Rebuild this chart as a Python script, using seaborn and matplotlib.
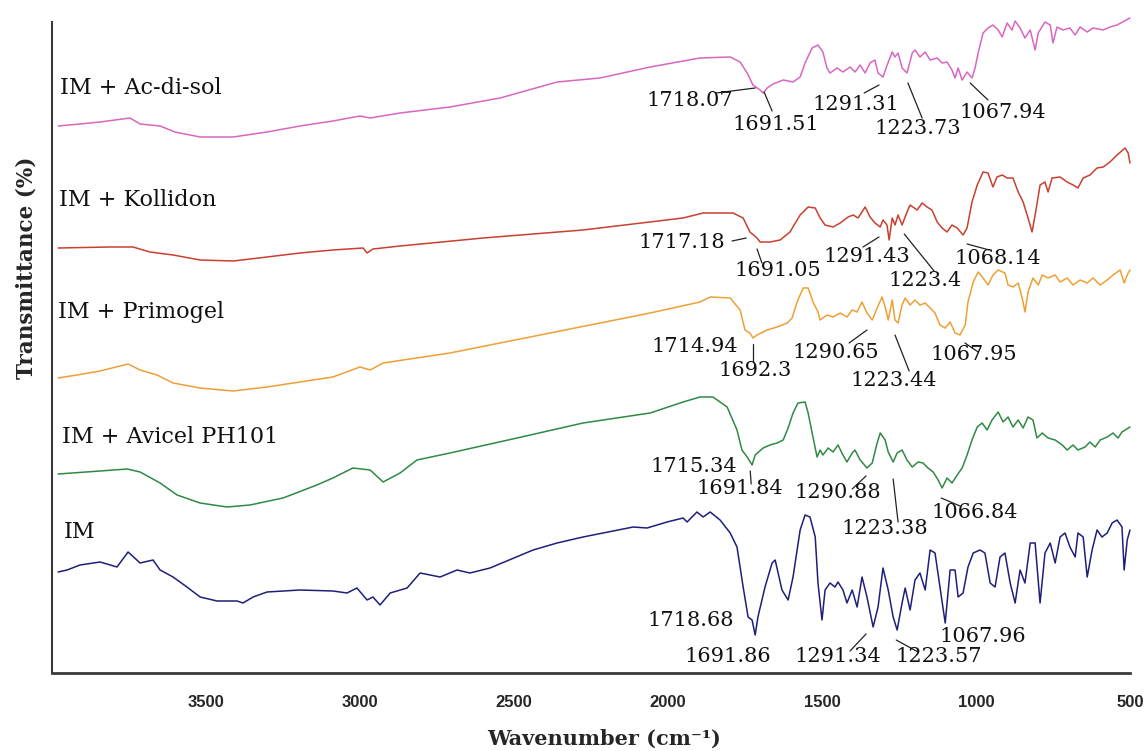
import matplotlib
matplotlib.use("Agg")
import matplotlib.pyplot as plt
import pandas as pd
import seaborn as sns

# FTIR spectra, stacked: wavenumber (cm-1) and transmittance (arbitrary, offset)
acdisol_wn = [3980, 3909, 3844, 3747, 3714, 3649, 3601, 3519, 3412, 3302, 3195, 3088, 3000, 2967, 2870,
              2708, 2545, 2360, 2221, 2058, 1896, 1798, 1766, 1743, 1724, 1701, 1691, 1678, 1659, 1626,
              1594, 1571, 1555, 1532, 1513, 1497, 1484, 1474, 1451, 1432, 1409, 1393, 1376, 1360, 1344,
              1328, 1318, 1302, 1286, 1272, 1263, 1253, 1240, 1224, 1207, 1198, 1182, 1165, 1149, 1126,
              1110, 1094, 1078, 1068, 1058, 1045, 1029, 1013, 1003, 993, 977, 961, 945, 928, 915, 899,
              883, 873, 857, 841, 824, 808, 798, 776, 759, 750, 737, 717, 695, 678, 662, 639, 620, 587,
              565, 542, 500]
acdisol_t = [547, 549, 551, 555, 549, 547, 541, 536, 536, 541, 547, 552, 557, 555, 560,
             566, 575, 591, 595, 606, 615, 616, 611, 600, 588, 583, 580, 585, 589, 593,
             591, 596, 610, 625, 628, 621, 605, 600, 605, 601, 606, 601, 608, 600, 610,
             613, 600, 596, 610, 621, 616, 620, 605, 600, 620, 623, 616, 621, 613, 615,
             610, 611, 603, 595, 605, 593, 601, 595, 605, 620, 640, 645, 648, 643, 636, 650,
             643, 652, 645, 635, 643, 623, 640, 651, 648, 630, 646, 643, 645, 638, 646, 641, 645, 643,
             646, 648, 655]

kollidon_wn = [3980, 3812, 3737, 3682, 3607, 3519, 3412, 3302, 3195, 3088, 2990, 2977, 2958, 2870, 2600,
               2276, 1951, 1886, 1831, 1789, 1756, 1734, 1711, 1701, 1669, 1636, 1604, 1571, 1545, 1522,
               1506, 1490, 1464, 1441, 1415, 1399, 1383, 1360, 1344, 1328, 1311, 1302, 1289, 1282, 1272,
               1263, 1253, 1240, 1224, 1214, 1191, 1175, 1159, 1143, 1126, 1110, 1094, 1078, 1061, 1042,
               1029, 1013, 996, 977, 961, 945, 932, 915, 899, 880, 863, 847, 831, 818, 808, 792, 776,
               766, 753, 727, 704, 685, 669, 652, 630, 607, 587, 565, 542, 516, 506, 500]
kollidon_t = [425, 426, 426, 421, 418, 413, 412, 416, 420, 423, 425, 420, 424, 427, 435,
              443, 455, 460, 460, 460, 455, 441, 435, 431, 431, 433, 441, 458, 466, 465,
              455, 448, 446, 450, 456, 458, 455, 466, 456, 450, 446, 453, 448, 433, 455,
              448, 458, 448, 461, 468, 463, 470, 466, 463, 451, 445, 441, 448, 445, 438,
              445, 471, 488, 501, 500, 486, 496, 498, 495, 495, 481, 471, 455, 441, 458, 488, 491,
              481, 495, 496, 491, 488, 485, 495, 498, 505, 506, 511, 518, 525, 520, 510]

primogel_wn = [3980, 3919, 3844, 3753, 3714, 3659, 3607, 3519, 3412, 3302, 3195, 3088, 3000, 2967, 2925,
               2708, 2383, 2058, 1896, 1863, 1798, 1766, 1750, 1734, 1724, 1711, 1678, 1646, 1613, 1597,
               1581, 1561, 1545, 1529, 1513, 1506, 1484, 1464, 1441, 1419, 1402, 1386, 1370, 1354, 1337,
               1321, 1305, 1295, 1285, 1272, 1263, 1253, 1240, 1230, 1214, 1198, 1182, 1165, 1149, 1133,
               1117, 1100, 1084, 1068, 1052, 1035, 1026, 1009, 993, 977, 961, 945, 928, 906, 896, 880,
               863, 850, 841, 831, 815, 798, 785, 766, 743, 727, 704, 685, 662, 639, 620, 597, 574, 555,
               532, 519, 506, 500]
primogel_t = [295, 298, 302, 309, 303, 298, 290, 285, 282, 286, 291, 296, 306, 303, 310,
              320, 340, 360, 371, 376, 375, 363, 343, 340, 335, 338, 343, 346, 350, 355,
              371, 385, 385, 371, 361, 353, 358, 356, 360, 356, 363, 361, 371, 360, 353,
              365, 376, 366, 353, 373, 353, 350, 368, 375, 368, 373, 368, 370, 365, 360,
              348, 345, 351, 340, 338, 348, 371, 391, 401, 395, 388, 398, 403, 400, 388, 386,
              390, 375, 361, 381, 395, 388, 398, 395, 398, 391, 395, 388, 393, 390, 395, 388, 393, 398,
              403, 390, 400, 403]

avicel_wn = [3980, 3844, 3756, 3714, 3649, 3594, 3519, 3432, 3357, 3250, 3140, 3088, 3023, 2967, 2925,
             2870, 2815, 2708, 2490, 2276, 2058, 1951, 1896, 1854, 1808, 1776, 1760, 1743, 1727, 1717,
             1691, 1669, 1646, 1626, 1610, 1594, 1578, 1555, 1545, 1532, 1522, 1516, 1506, 1497, 1480,
             1464, 1448, 1432, 1419, 1402, 1393, 1376, 1354, 1337, 1321, 1311, 1295, 1285, 1269, 1256,
             1240, 1224, 1207, 1188, 1172, 1156, 1139, 1123, 1110, 1094, 1078, 1061, 1045, 1029, 1013,
             996, 980, 964, 948, 928, 912, 896, 880, 863, 847, 831, 815, 802, 785, 766, 743, 720, 704,
             685, 669, 646, 630, 613, 597, 574, 555, 539, 526, 500]
avicel_t = [199, 202, 204, 201, 190, 178, 170, 166, 168, 175, 188, 195, 205, 203, 191,
            200, 213, 220, 235, 250, 260, 271, 276, 276, 266, 243, 223, 216, 208, 218,
            225, 228, 230, 233, 245, 260, 270, 271, 260, 240, 225, 216, 223, 218, 225,
            221, 228, 218, 211, 220, 223, 213, 205, 210, 230, 240, 233, 221, 211, 220,
            223, 213, 206, 211, 210, 205, 201, 193, 185, 195, 190, 198, 205, 218, 233,
            246, 250, 243, 253, 261, 251, 256, 246, 253, 245, 256, 253, 235, 240, 235, 233, 228, 223,
            228, 223, 226, 231, 226, 233, 236, 240, 235, 241, 246]

im_wn = [3980, 3951, 3909, 3844, 3789, 3753, 3714, 3672, 3649, 3607, 3562, 3519, 3464, 3399, 3380,
         3347, 3302, 3195, 3088, 3042, 3010, 2977, 2958, 2935, 2902, 2847, 2805, 2740, 2685, 2643,
         2578, 2438, 2360, 2276, 2113, 2068, 2003, 1951, 1938, 1906, 1886, 1863, 1831, 1798, 1776,
         1756, 1740, 1727, 1717, 1708, 1685, 1662, 1652, 1630, 1610, 1594, 1571, 1555, 1539, 1522,
         1513, 1500, 1490, 1474, 1458, 1448, 1432, 1419, 1402, 1386, 1370, 1354, 1334, 1318, 1302,
         1285, 1269, 1256, 1240, 1230, 1214, 1198, 1182, 1165, 1149, 1133, 1117, 1100, 1084, 1068,
         1058, 1042, 1026, 1009, 987, 971, 954, 938, 922, 906, 889, 873, 857, 841, 824, 808, 792,
         776, 759, 743, 727, 711, 695, 678, 669, 652, 639, 623, 607, 591, 574, 558, 542, 526, 519,
         509, 500]
im_t = [101, 103, 108, 111, 106, 121, 110, 113, 103, 96, 86, 76, 72, 72, 70,
        76, 81, 83, 82, 80, 85, 73, 76, 68, 80, 85, 100, 96, 103, 100,
        105, 123, 130, 136, 146, 145, 151, 155, 151, 161, 156, 161, 153, 140, 126,
        86, 56, 53, 38, 56, 86, 110, 113, 83, 73, 96, 143, 158, 156, 136,
        90, 53, 83, 90, 86, 91, 83, 70, 83, 66, 96, 76, 46, 66, 105,
        83, 56, 43, 70, 85, 63, 93, 100, 83, 123, 120, 86, 50, 103, 103,
        76, 80, 106, 120, 123, 120, 90, 86, 116, 120, 90, 70, 103, 90, 130, 130, 70,
        120, 130, 110, 136, 140, 126, 116, 140, 136, 96, 123, 143, 136, 140, 150, 153, 146, 103,
        133, 143]

samples = ["IM + Ac-di-sol", "IM + Kollidon", "IM + Primogel", "IM + Avicel PH101", "IM"]
colors = ["#d966bf", "#c8402f", "#eea035", "#2f8a45", "#1f1f7a"]
series = [(acdisol_wn, acdisol_t), (kollidon_wn, kollidon_t), (primogel_wn, primogel_t),
          (avicel_wn, avicel_t), (im_wn, im_t)]

sns.set_style("white")
plt.rcParams['font.family'] = ['DejaVu Serif', 'DejaVu Sans']

frames = []
for name, (wn, t) in zip(samples, series):
    frames.append(pd.DataFrame({"wn": wn, "t": t, "sample": name}))
df = pd.concat(frames, ignore_index=True)

fig = plt.figure(figsize=(11.45, 7.51), dpi=100)
ax = fig.add_axes([52 / 1145, 78 / 751, 1078 / 1145, 651 / 751])

sns.lineplot(data=df, x="wn", y="t", hue="sample", hue_order=samples,
             palette=dict(zip(samples, colors)), estimator=None, linewidth=1.1,
             legend=False, ax=ax)
for ln in ax.lines:
    ln.set_clip_on(False)

ax.set_xlim(4000, 500)
ax.set_ylim(0, 651)
ax.set_xticks([3500, 3000, 2500, 2000, 1500, 1000, 500])
ax.set_xticklabels(["3500", "3000", "2500", "2000", "1500", "1000", "500"],
                   fontfamily="Liberation Sans", fontweight="bold", fontsize=12)
ax.set_yticks([44, 123, 202, 281, 360, 439, 518, 597])
ax.set_yticklabels([])
ax.set_xlabel("")
ax.set_ylabel("")

for s in ["top", "right"]:
    ax.spines[s].set_visible(False)
ax.spines["left"].set_color("#3a3a3a")
ax.spines["left"].set_linewidth(1.5)
ax.spines["bottom"].set_color("#3a3a3a")
ax.spines["bottom"].set_linewidth(2.0)
ax.tick_params(axis="x", direction="out", length=6, width=2, color="#3a3a3a", pad=10)
ax.tick_params(axis="y", direction="out", length=4, width=1.2, color="#3a3a3a")

# sample names on the left
name_pos = [(3974, 585), (3977, 473), (3980, 361), (3968, 236), (3961, 141)]
for name, (x, y) in zip(samples, name_pos):
    ax.text(x, y, name, fontsize=16, ha="left", va="center", color="#111111")

# peak labels: text, text centre, leader start, leader end
peaks = [
    ("1718.07", (1928, 572), (1844, 580), (1717, 585)),
    ("1691.51", (1649, 548), (1662, 562), (1688, 581)),
    ("1291.31", (1389, 568), (1363, 580), (1315, 588)),
    ("1223.73", (1188, 545), (1175, 555), (1221, 590)),
    ("1067.94", (912, 561), (961, 573), (1019, 590)),
    ("1717.18", (1954, 431), (1792, 432), (1746, 435)),
    ("1691.05", (1643, 403), (1695, 410), (1711, 424)),
    ("1291.43", (1354, 416), (1367, 426), (1315, 436)),
    ("1223.4", (1165, 392), (1136, 402), (1233, 439)),
    ("1068.14", (928, 415), (957, 423), (1029, 429)),
    ("1714.94", (1912, 327), None, None),
    ("1692.3", (1717, 303), (1724, 311), (1724, 329)),
    ("1290.65", (1454, 321), (1412, 330), (1354, 343)),
    ("1223.44", (1266, 293), (1217, 302), (1263, 338)),
    ("1067.95", (1006, 319), (993, 321), (1036, 330)),
    ("1715.34", (1915, 207), None, None),
    ("1691.84", (1766, 185), (1730, 189), (1733, 202)),
    ("1290.88", (1448, 180), (1402, 184), (1357, 197)),
    ("1223.38", (1295, 144), (1253, 151), (1269, 194)),
    ("1066.84", (1003, 160), (1052, 167), (1113, 175)),
    ("1718.68", (1925, 52), None, None),
    ("1691.86", (1805, 17), None, None),
    ("1291.34", (1448, 16), (1409, 22), (1357, 39)),
    ("1223.57", (1120, 16), (1188, 21), (1259, 33)),
    ("1067.96", (977, 36), None, None),
]
for label, (tx, ty), p0, p1 in peaks:
    ax.text(tx, ty, label, fontsize=15, ha="center", va="center", color="#111111")
    if p0 is not None:
        ax.plot([p0[0], p1[0]], [p0[1], p1[1]], color="#222222", lw=0.9)

fig.text(604 / 1145, 1 - 739 / 751, "Wavenumber (cm\u207b\u00b9)", fontsize=15,
         fontweight="bold", ha="center", va="center")
fig.text(27 / 1145, 1 - 268 / 751, "Transmittance (%)", fontsize=15.5, fontweight="bold",
         rotation=90, ha="center", va="center")

fig.savefig("out.png", dpi=100)
